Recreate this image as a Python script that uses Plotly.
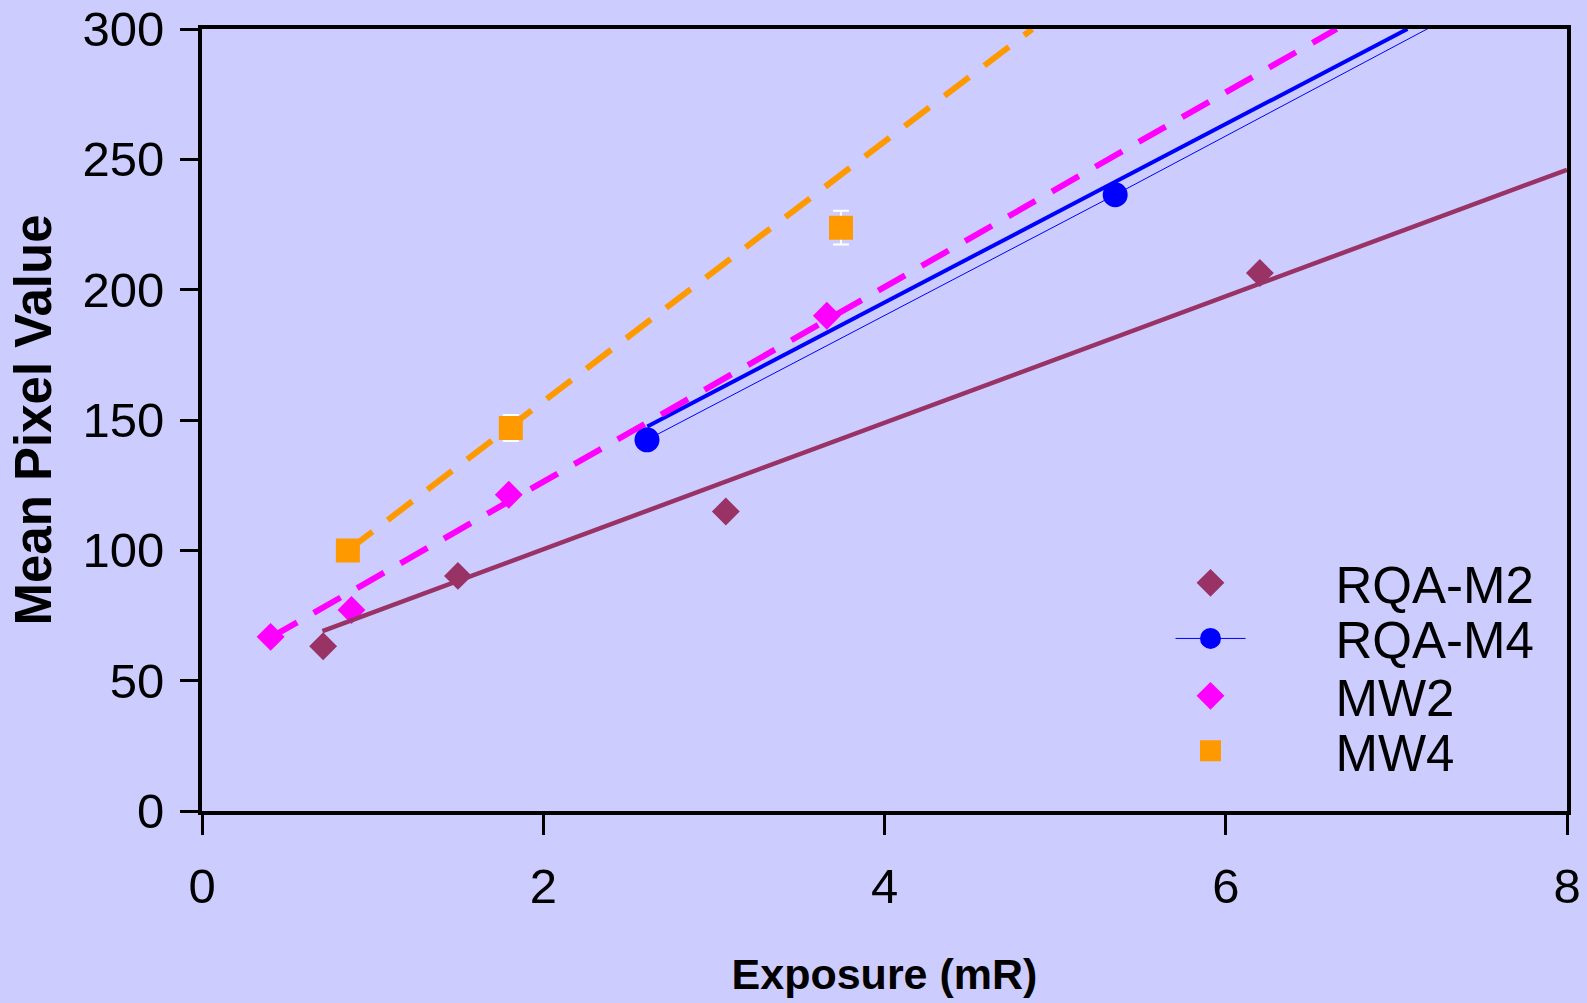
import plotly.graph_objects as go

# ---------------- data ----------------
rqa_m2_x = [0.71, 1.50, 3.07, 6.20]
rqa_m2_y = [63.2, 90.2, 114.9, 206.4]
rqa_m2_fit_x = [0.706, 8.0]
rqa_m2_fit_y = [69.0, 246.0]

rqa_m4_x = [2.608, 5.352, 7.347]
rqa_m4_y = [142.4, 236.4, 305.8]
rqa_m4_fit_x = [2.61, 7.065]
rqa_m4_fit_y = [147.5, 300.0]

mw2_x = [0.402, 0.876, 1.798, 3.662]
mw2_y = [66.8, 77.1, 121.3, 190.0]
mw2_fit_x = [0.40, 6.65]
mw2_fit_y = [66.5, 300.0]

mw4_x = [0.855, 1.810, 3.745]
mw4_y = [99.9, 146.9, 223.8]
mw4_err = [3.0, 5.0, 6.5]
mw4_fit_x = [0.855, 4.866]
mw4_fit_y = [100.0, 300.0]

x_ticks = [0, 2, 4, 6, 8]
y_ticks = [0, 50, 100, 150, 200, 250, 300]

series_names = ["RQA-M2", "RQA-M4", "MW2", "MW4"]

# ---------------- styling ----------------
BG = "#CCCCFF"
C_M2 = "#993366"
C_M4 = "#0000FF"
C_MW2 = "#FF00FF"
C_MW4 = "#FF9900"
FONT = "Liberation Sans, Arial, sans-serif"
NB = "\u00a0" * 6  # shifts the RQA-M4 legend text (whose legend symbol is short)

fig = go.Figure()

# data series (marker outlines in the same colour keep the legend symbols large)
fig.add_trace(go.Scatter(x=rqa_m2_x, y=rqa_m2_y, mode="markers", name=series_names[0],
                         marker=dict(symbol="diamond", size=16, color=C_M2,
                                     line=dict(color=C_M2, width=5)),
                         legend="legend"))
fig.add_trace(go.Scatter(x=rqa_m4_x, y=rqa_m4_y, mode="lines+markers", name=NB + series_names[1],
                         line=dict(color=C_M4, width=1),
                         marker=dict(symbol="circle", size=17, color=C_M4,
                                     line=dict(color=C_M4, width=8)),
                         legend="legend2"))
fig.add_trace(go.Scatter(x=mw2_x, y=mw2_y, mode="markers", name=series_names[2],
                         marker=dict(symbol="diamond", size=16, color=C_MW2,
                                     line=dict(color=C_MW2, width=5)),
                         legend="legend3"))
fig.add_trace(go.Scatter(x=mw4_x, y=mw4_y, mode="markers", name=series_names[3],
                         marker=dict(symbol="square", size=17, color=C_MW4,
                                     line=dict(color=C_MW4, width=7)),
                         error_y=dict(type="data", array=mw4_err, visible=True,
                                      color="white", thickness=2, width=8),
                         legend="legend4"))

# trend lines
fig.add_trace(go.Scatter(x=rqa_m2_fit_x, y=rqa_m2_fit_y, mode="lines", showlegend=False,
                         line=dict(color=C_M2, width=4.5), hoverinfo="skip"))
fig.add_trace(go.Scatter(x=rqa_m4_fit_x, y=rqa_m4_fit_y, mode="lines", showlegend=False,
                         line=dict(color=C_M4, width=4), hoverinfo="skip"))
fig.add_trace(go.Scatter(x=mw2_fit_x, y=mw2_fit_y, mode="lines", showlegend=False,
                         line=dict(color=C_MW2, width=6, dash="31px,19px"), hoverinfo="skip"))
fig.add_trace(go.Scatter(x=mw4_fit_x, y=mw4_fit_y, mode="lines", showlegend=False,
                         line=dict(color=C_MW4, width=6, dash="31px,19px"), hoverinfo="skip"))

L, R, T, B = 202, 20, 29, 192
W, H = 1587, 1003
pw, ph = W - L - R, H - T - B

def px_x(px):
    return (px - L) / pw

def px_y(py):
    return (H - B - py) / ph

legend_rows = [583.2, 638.8, 696.2, 751.2]
leg_common = dict(xanchor="left", yanchor="middle", bgcolor="rgba(0,0,0,0)",
                  borderwidth=0, font=dict(family=FONT, size=51, color="black"),
                  itemsizing="trace")
wide_x = px_x(1085.5)
narrow_x = px_x(1170.5)

fig.update_layout(
    width=W, height=H,
    paper_bgcolor=BG, plot_bgcolor=BG,
    margin=dict(l=L, r=R, t=T, b=B, autoexpand=False),
    font=dict(family=FONT, color="black"),
    legend=dict(x=wide_x, y=px_y(legend_rows[0]), itemwidth=240, **leg_common),
    legend2=dict(x=narrow_x, y=px_y(legend_rows[1]), itemwidth=70, **leg_common),
    legend3=dict(x=wide_x, y=px_y(legend_rows[2]), itemwidth=240, **leg_common),
    legend4=dict(x=wide_x, y=px_y(legend_rows[3]), itemwidth=240, **leg_common),
    xaxis=dict(range=[0, 8], tickvals=x_ticks, ticktext=[str(v) for v in x_ticks],
               showgrid=False, zeroline=False, automargin=False,
               showline=True, linecolor="black", linewidth=4, mirror=True,
               ticks="outside", ticklen=20, tickwidth=3, tickcolor="black",
               ticklabelstandoff=9,
               tickfont=dict(family=FONT, size=49, color="black"),
               title=dict(text="Exposure (mR)", standoff=48,
                          font=dict(family=FONT, size=43, color="black", weight="bold"))),
    yaxis=dict(range=[0, 300], tickvals=y_ticks, ticktext=[str(v) for v in y_ticks],
               showgrid=False, zeroline=False, automargin=False,
               showline=True, linecolor="black", linewidth=4, mirror=True,
               ticks="outside", ticklen=18, tickwidth=3, tickcolor="black",
               ticklabelstandoff=6,
               tickfont=dict(family=FONT, size=49, color="black"),
               title=dict(text="Mean Pixel Value", standoff=16,
                          font=dict(family=FONT, size=51, color="black", weight="bold"))),
)

fig.write_html("out.html")
